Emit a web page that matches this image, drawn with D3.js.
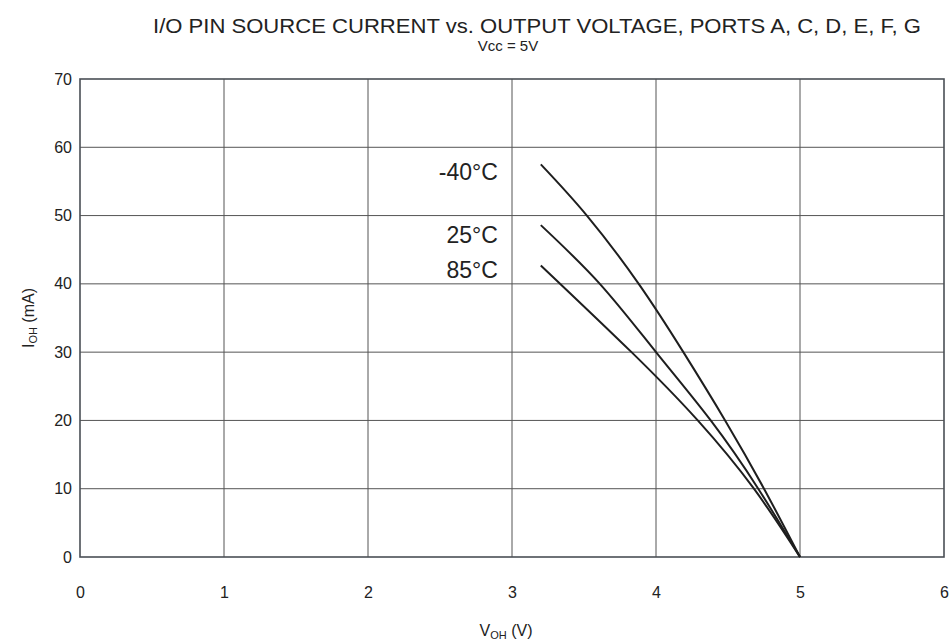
<!DOCTYPE html>
<html>
<head>
<meta charset="utf-8">
<script src="https://cdn.jsdelivr.net/npm/d3@7"></script>
<style>
  html, body { margin: 0; padding: 0; background: #fff; }
  svg { display: block; font-family: "Liberation Sans", Arial, sans-serif; }
</style>
</head>
<body>
<div id="chart"></div>
<script>
// --------------- Data ---------------
const X_TICKS = [0, 1, 2, 3, 4, 5, 6];
const Y_TICKS = [0, 10, 20, 30, 40, 50, 60, 70];

const SERIES_LABELS = ["-40°C", "25°C", "85°C"];
const V_M40 = [3.2, 3.52, 3.88, 4.19, 4.48, 4.75, 5.0];
const I_M40 = [57.5, 50, 40, 30, 20, 10, 0];
const V_25 = [3.2, 3.61, 4.0, 4.38, 4.71, 5.0];
const I_25 = [48.6, 40, 30, 20, 10, 0];
const V_85 = [3.2, 3.83, 4.29, 4.68, 5.0];
const I_85 = [42.7, 30, 20, 10, 0];

// --------------- Constants ---------------
const WIDTH = 949;
const HEIGHT = 643;
const MARGINS = { top: 79, right: 5, bottom: 86, left: 80 };
const VIS_WIDTH = WIDTH - MARGINS.left - MARGINS.right;
const VIS_HEIGHT = HEIGHT - MARGINS.top - MARGINS.bottom;
const FONT = '"Liberation Sans", Arial, sans-serif';

const svg = d3
  .select("#chart")
  .append("svg")
  .attr("width", WIDTH)
  .attr("height", HEIGHT);

const X_SCALE = d3.scaleLinear().domain([0, 6]).range([0, VIS_WIDTH]);
const Y_SCALE = d3.scaleLinear().domain([0, 70]).range([VIS_HEIGHT, 0]);

const plot = svg
  .append("g")
  .attr("transform", `translate(${MARGINS.left},${MARGINS.top})`);

// Grid lines
plot
  .append("g")
  .selectAll("line")
  .data(X_TICKS.slice(1, -1))
  .enter()
  .append("line")
  .attr("x1", (d) => X_SCALE(d))
  .attr("x2", (d) => X_SCALE(d))
  .attr("y1", 0)
  .attr("y2", VIS_HEIGHT)
  .attr("stroke", "#555")
  .attr("stroke-width", 1);

plot
  .append("g")
  .selectAll("line")
  .data(Y_TICKS.slice(1, -1))
  .enter()
  .append("line")
  .attr("x1", 0)
  .attr("x2", VIS_WIDTH)
  .attr("y1", (d) => Y_SCALE(d))
  .attr("y2", (d) => Y_SCALE(d))
  .attr("stroke", "#555")
  .attr("stroke-width", 1);

// Frame
plot
  .append("rect")
  .attr("x", 0)
  .attr("y", 0)
  .attr("width", VIS_WIDTH)
  .attr("height", VIS_HEIGHT)
  .attr("fill", "none")
  .attr("stroke", "#4a4f55")
  .attr("stroke-width", 1.6);

// Axes (labels only)
const xAxis = plot
  .append("g")
  .attr("transform", `translate(0,${VIS_HEIGHT + 22})`)
  .call(
    d3.axisBottom(X_SCALE).tickValues(X_TICKS).tickFormat(d3.format("d")).tickSize(0).tickPadding(8)
  );
const yAxis = plot
  .append("g")
  .attr("transform", `translate(-8,0)`)
  .call(
    d3.axisLeft(Y_SCALE).tickValues(Y_TICKS).tickFormat(d3.format("d")).tickSize(0).tickPadding(0)
  );

[xAxis, yAxis].forEach((ax) => {
  ax.select(".domain").remove();
  ax.attr("font-size", null).attr("font-family", null);
  ax.selectAll("text")
    .style("font-size", "16px")
    .style("font-family", FONT)
    .attr("fill", "#222");
});

// Curves - natural spline keeps them smooth like the datasheet plot
const line = d3
  .line()
  .x((d) => X_SCALE(d[0]))
  .y((d) => Y_SCALE(d[1]))
  .curve(d3.curveNatural);

const curves = [
  d3.zip(V_M40, I_M40),
  d3.zip(V_25, I_25),
  d3.zip(V_85, I_85),
];

plot
  .append("g")
  .selectAll("path")
  .data(curves)
  .enter()
  .append("path")
  .attr("d", line)
  .attr("fill", "none")
  .attr("stroke", "#1e1e1e")
  .attr("stroke-width", 2);

// Curve labels
plot
  .append("g")
  .selectAll("text")
  .data(curves)
  .enter()
  .append("text")
  .attr("x", (d) => X_SCALE(d[0][0]) - 43)
  .attr("y", (d, i) => Y_SCALE(d[0][1]) + [16, 18, 13][i])
  .attr("text-anchor", "end")
  .style("font-size", "23px")
  .attr("fill", "#222")
  .text((d, i) => SERIES_LABELS[i]);

// Titles
svg
  .append("text")
  .attr("x", 537)
  .attr("y", 33)
  .attr("text-anchor", "middle")
  .attr("textLength", 768)
  .attr("lengthAdjust", "spacingAndGlyphs")
  .style("font-size", "21px")
  .attr("fill", "#222")
  .text("I/O PIN SOURCE CURRENT vs. OUTPUT VOLTAGE, PORTS A, C, D, E, F, G");

svg
  .append("text")
  .attr("x", 508)
  .attr("y", 51)
  .attr("text-anchor", "middle")
  .style("font-size", "15px")
  .attr("fill", "#222")
  .text("Vcc = 5V");

// X axis title
const xt = svg
  .append("text")
  .attr("x", 506)
  .attr("y", 636)
  .attr("text-anchor", "middle")
  .style("font-size", "16px")
  .attr("fill", "#222");
xt.append("tspan").text("V");
xt.append("tspan").style("font-size", "11px").attr("dy", 3).text("OH");
xt.append("tspan").attr("dy", -3).text(" (V)");

// Y axis title
const yt = svg
  .append("text")
  .attr("transform", `translate(34,${MARGINS.top + VIS_HEIGHT / 2}) rotate(-90)`)
  .attr("text-anchor", "middle")
  .style("font-size", "16px")
  .attr("fill", "#222");
yt.append("tspan").text("I");
yt.append("tspan").style("font-size", "11px").attr("dy", 3).text("OH");
yt.append("tspan").attr("dy", -3).text(" (mA)");
</script>
</body>
</html>
